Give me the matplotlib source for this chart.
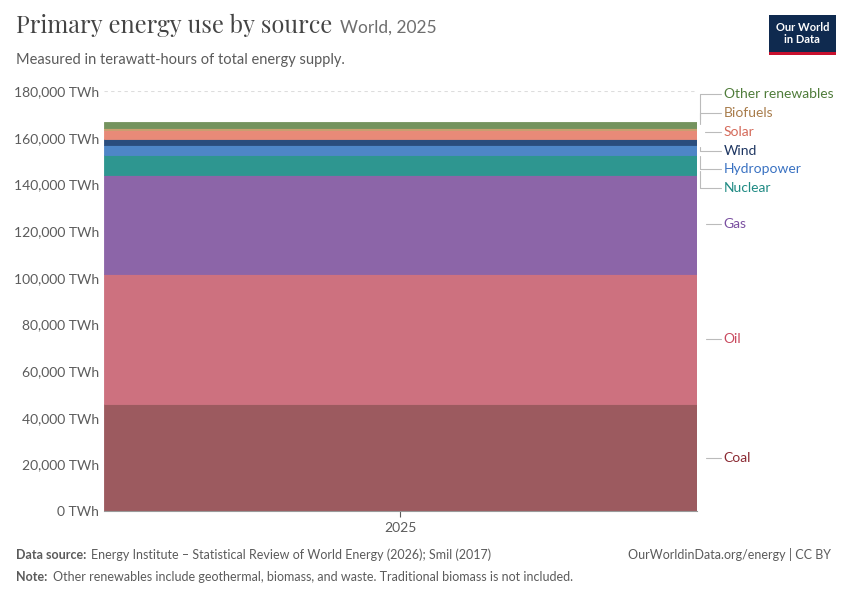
import matplotlib.pyplot as plt
from matplotlib.ticker import FuncFormatter

plt.rcParams['font.family'] = ['Lato', 'DejaVu Sans']

sources = ["Coal", "Oil", "Gas", "Nuclear", "Hydropower", "Wind", "Solar", "Biofuels", "Other renewables"]
values = [46000, 55800, 42200, 8600, 4300, 2800, 3700, 700, 2900]
colors = ["#9c5a5f", "#cd717f", "#8c65a8", "#2e9690", "#4e86c7", "#2a4d7d", "#e88a78", "#c9a06f", "#74935e"]
label_colors = ["#8b2a33", "#c9495e", "#7a4fa0", "#1f8a83", "#3a72c2", "#1d3561", "#d46a5a", "#a87c4b", "#4f7c3a"]
year = "2025"

fig = plt.figure(figsize=(8.5, 6), dpi=100)
ax = fig.add_axes([0.122, 0.148, 0.698, 0.7])

bottom = 0
mids = []
for v, c in zip(values, colors):
    ax.bar([0], [v], bottom=bottom, width=1.0, color=c, edgecolor=c, linewidth=0.6)
    mids.append(bottom + v / 2)
    bottom += v

ax.set_xlim(-0.5, 0.5)
ax.set_ylim(0, 180000)
ax.set_yticks(range(0, 180001, 20000))
ax.yaxis.set_major_formatter(FuncFormatter(lambda v, p: f"{int(v):,} TWh"))
ax.set_xticks([0])
ax.set_xticklabels([year])
ax.tick_params(axis='y', length=0, labelsize=10, colors="#5b5b5b")
ax.tick_params(axis='x', length=4, labelsize=10, colors="#5b5b5b")
for s in ["top", "right", "left"]:
    ax.spines[s].set_visible(False)
ax.spines["bottom"].set_color("#999999")
ax.grid(axis='y', linestyle=(0, (3, 3)), color="#dddddd", linewidth=0.8)
ax.set_axisbelow(True)
ax.axvline(0.5, color="#cccccc", linewidth=0.6)

# legend labels at right, with spread positions for the small stacks
label_y = [mids[0], mids[1], mids[2], 138300, 146500, 154300, 162400, 170500, 178600]
for name, m, ly, lc in zip(sources, mids, label_y, label_colors):
    ax.annotate(name, xy=(0.505, m), xycoords=('data', 'data'),
                xytext=(0.545, ly), textcoords='data',
                color=lc, fontsize=10, va='center', annotation_clip=False,
                arrowprops=dict(arrowstyle='-', color="#bbbbbb", lw=0.8,
                                connectionstyle="angle,angleA=0,angleB=90,rad=0",
                                shrinkA=0, shrinkB=4))

fig.text(0.019, 0.945, "Primary energy use by source", fontsize=17, fontweight='bold',
         color="#444444", family=['Playfair Display', 'DejaVu Serif'])
fig.text(0.40, 0.945, "World, 2025", fontsize=12.5, color="#6e6e6e")
fig.text(0.019, 0.893, "Measured in terawatt-hours of total energy supply.", fontsize=10.5, color="#5b5b5b")

# logo
fig.patches.append(plt.Rectangle((0.905, 0.913), 0.078, 0.062, transform=fig.transFigure,
                                 facecolor="#0f2a4f", figure=fig))
fig.patches.append(plt.Rectangle((0.905, 0.909), 0.078, 0.005, transform=fig.transFigure,
                                 facecolor="#c8102e", figure=fig))
fig.text(0.944, 0.944, "Our World\nin Data", fontsize=8, color="white", ha='center', va='center',
         fontweight='bold', linespacing=1.1)

fig.text(0.019, 0.068, "Data source:", fontsize=9, fontweight='bold', color="#5b5b5b")
fig.text(0.107, 0.068, "Energy Institute – Statistical Review of World Energy (2026); Smil (2017)",
         fontsize=9, color="#5b5b5b")
fig.text(0.978, 0.068, "OurWorldinData.org/energy | CC BY", fontsize=9, color="#5b5b5b", ha='right')
fig.text(0.019, 0.032, "Note:", fontsize=9, fontweight='bold', color="#5b5b5b")
fig.text(0.062, 0.032, "Other renewables include geothermal, biomass, and waste. Traditional biomass is not included.",
         fontsize=9, color="#5b5b5b")

fig.savefig("out.png", dpi=100)
